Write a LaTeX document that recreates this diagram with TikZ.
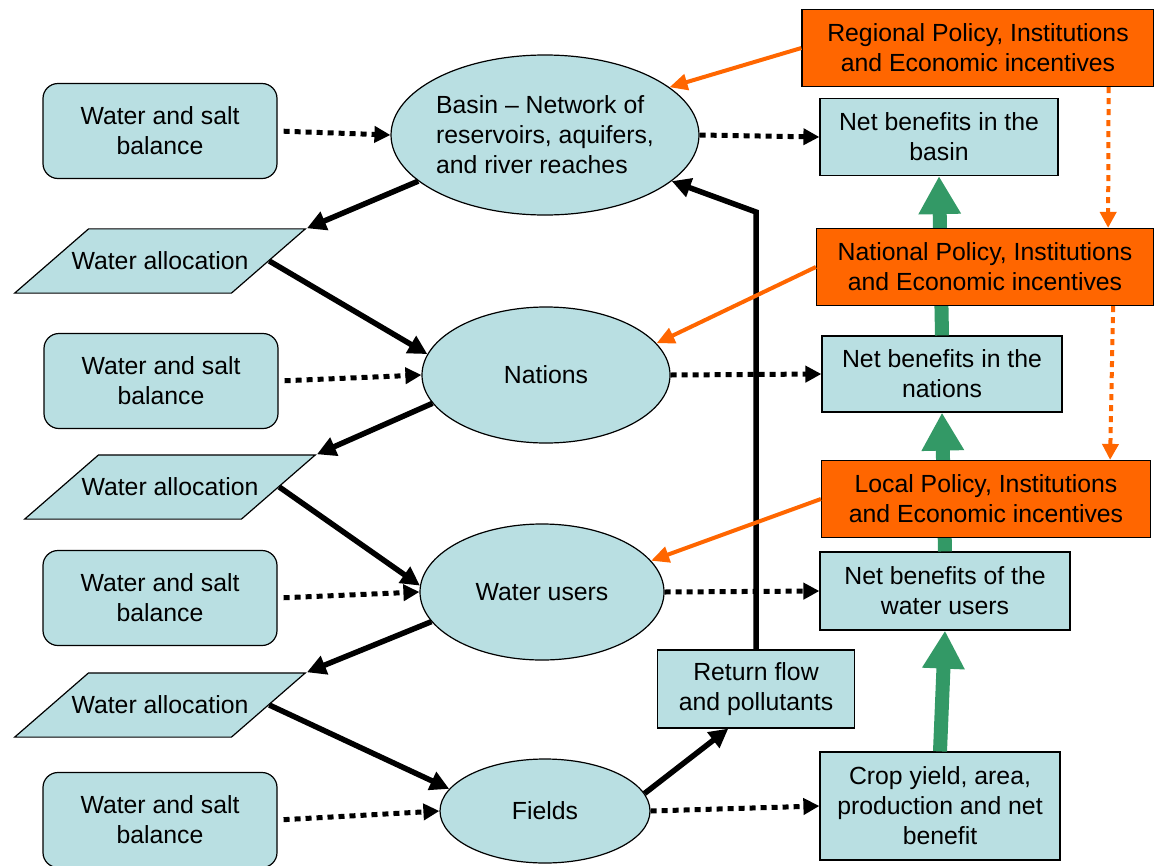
\documentclass[tikz,border=0pt]{standalone}
\usepackage{fontspec}
\setmainfont{Liberation Sans}
\usepackage{tikz}
\usepackage{xcolor}
\usetikzlibrary{shapes.geometric,arrows.meta}

\begin{document}
\begin{tikzpicture}[x=1pt,y=-1pt,
    every node/.style={font=\fontsize{24.8}{30}\selectfont,align=center,inner sep=0pt,text=black},
    bluebox/.style={draw,line width=1.2pt,fill=WaterBlue,minimum width=#1},
    balancebox/.style={bluebox=234pt,rounded corners=15pt,minimum height=95pt},
    levelell/.style={draw,line width=1.2pt,fill=WaterBlue,ellipse},
    allocbox/.style={draw,line width=1.2pt,fill=WaterBlue,trapezium,trapezium left angle=41,
        trapezium right angle=139,inner xsep=-17pt,inner ysep=23pt},
    policybox/.style={draw,line width=1.2pt,fill=PolicyOrange,minimum height=77pt,minimum width=#1},
    flow/.style={line width=5.5pt,-{Triangle[length=19pt,width=19pt]}},
    balanceflow/.style={line width=5pt,dash pattern=on 6pt off 5pt,-{Triangle[length=16pt,width=16pt]}},
    policyflow/.style={draw=PolicyOrange,line width=4pt,-{Triangle[length=18pt,width=16pt]}},
    policydown/.style={draw=PolicyOrange,line width=4pt,dash pattern=on 6pt off 5pt,-{Triangle[length=16pt,width=16pt]}},
    benefitflow/.style={draw=BenefitGreen,line width=14pt,-{Triangle[length=38pt,width=40pt]}}]
    \definecolor{WaterBlue}{HTML}{B9DFE2}
    \definecolor{PolicyOrange}{HTML}{FF6600}
    \definecolor{BenefitGreen}{HTML}{339966}
    \useasboundingbox (0,0) rectangle (1154,865);

    \node[balancebox] (wsb1) at (160,131) {Water and salt\\balance};
    \node[balancebox] (wsb2) at (161,381) {Water and salt\\balance};
    \node[balancebox] (wsb3) at (160,598) {Water and salt\\balance};
    \node[balancebox] (wsb4) at (160,820) {Water and salt\\balance};

    \node[levelell,minimum width=296pt,minimum height=160pt,align=left] (basin) at (545,135)
        {Basin -- Network of\\reservoirs, aquifers,\\and river reaches};
    \node[levelell,minimum width=248pt,minimum height=136pt] (nations) at (546,375) {Nations};
    \node[levelell,minimum width=244pt,minimum height=136pt] (users) at (542,592) {Water users};
    \node[levelell,minimum width=210pt,minimum height=104pt] (fields) at (545,811) {Fields};

    \node[allocbox] (wa1) at (160,261) {Water allocation};
    \node[allocbox] (wa2) at (170,487) {Water allocation};
    \node[allocbox] (wa3) at (160,705) {Water allocation};

    \node[bluebox=238pt,minimum height=77pt] (nb1) at (939,137) {Net benefits in the\\basin};
    \node[bluebox=240pt,minimum height=76pt] (nb2) at (942,374) {Net benefits in the\\nations};
    \node[bluebox=250pt,minimum height=78pt] (nb3) at (945,591) {Net benefits of the\\water users};
    \node[bluebox=240pt,minimum height=108pt] (crop) at (940,806) {Crop yield, area,\\production and net\\benefit};
    \node[bluebox=197pt,minimum height=78pt] (ret) at (756,689) {Return flow\\and pollutants};

    \draw[benefitflow] (crop.north) -- (nb3.south);
    \draw[benefitflow] (nb3.north) -- (nb2.south);
    \draw[benefitflow] (nb2.north) -- (nb1.south);

    \node[policybox=352pt] (reg) at (978,48) {Regional Policy, Institutions\\and Economic incentives};
    \node[policybox=337pt] (nat) at (985,267) {National Policy, Institutions\\and Economic incentives};
    \node[policybox=329pt] (loc) at (986,499) {Local Policy, Institutions\\and Economic incentives};

    \draw[balanceflow,shorten <=6pt] (wsb1.east) -- (basin.west);
    \draw[balanceflow,shorten <=6pt] (wsb2.east) -- (nations.west);
    \draw[balanceflow,shorten <=6pt] (wsb3.east) -- (users.west);
    \draw[balanceflow,shorten <=6pt] (wsb4.east) -- (fields.west);
    \draw[balanceflow] (basin.east) -- (nb1.west);
    \draw[balanceflow] (nations.east) -- (nb2.west);
    \draw[balanceflow] (users.east) -- (nb3.west);
    \draw[balanceflow] (fields.east) -- (crop.west);

    \draw[flow] (basin.200) -- (wa1.top right corner);
    \draw[flow] (wa1.east) -- (nations.170);
    \draw[flow] (nations.194) -- (wa2.top right corner);
    \draw[flow] (wa2.east) -- (users.177);
    \draw[flow] (users.195) -- (wa3.top right corner);
    \draw[flow] (wa3.east) -- (fields.167);
    \draw[flow] (fields.10) -- (ret.-125);

    \coordinate (bend) at (756,212);
    \draw[flow] (ret.north) -- (bend) -- (basin.340);

    \draw[policyflow] (reg.west) -- (basin.21);
    \draw[policyflow] (nat.west) -- (nations.16);
    \draw[policyflow] (loc.west) -- (users.16);
    \draw[policydown] ([xshift=-46pt]reg.south east) -- ([xshift=-46pt]nat.north east);
    \draw[policydown] ([xshift=-41pt]nat.south east) -- ([xshift=-41pt]loc.north east);
\end{tikzpicture}
\end{document}
